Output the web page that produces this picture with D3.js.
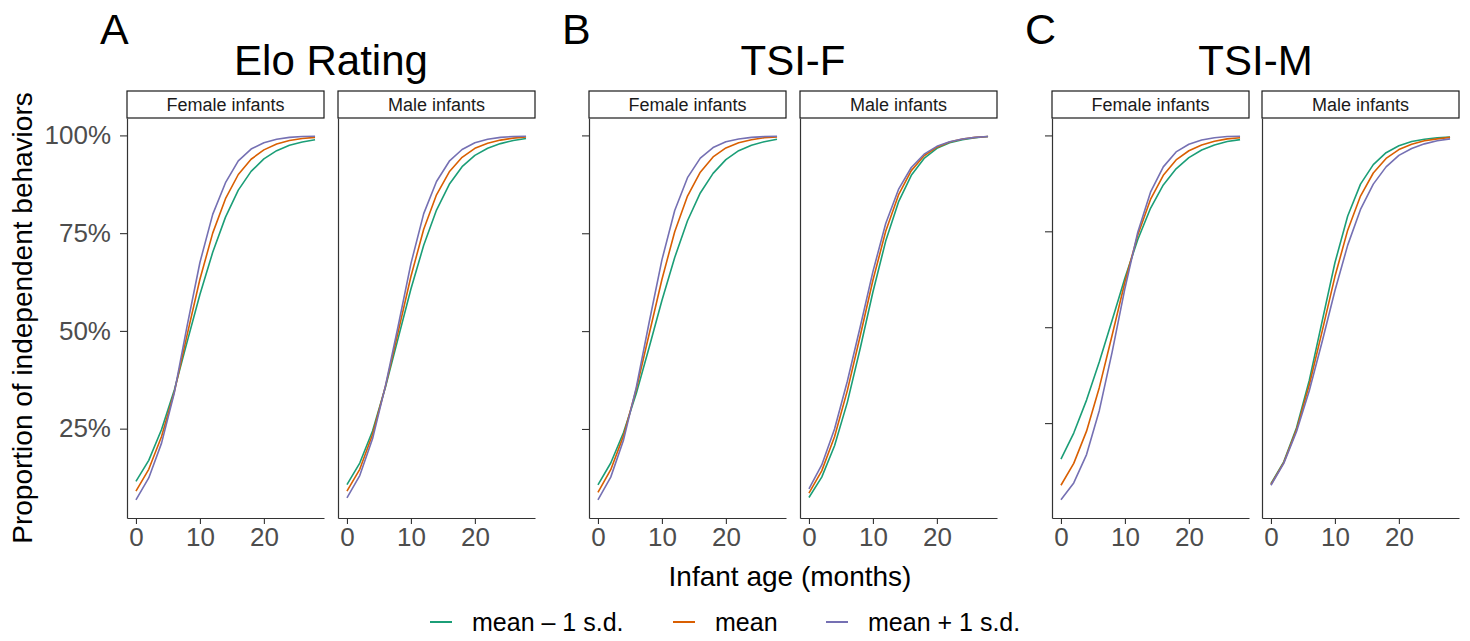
<!DOCTYPE html>
<html><head><meta charset="utf-8">
<script src="https://cdn.jsdelivr.net/npm/d3@7"></script>
<style>
body{margin:0;background:#fff;}
svg{display:block;font-family:"Liberation Sans",Arial,Helvetica,sans-serif;}
</style>
</head><body>
<svg id="chart" width="1470" height="641"></svg>
<script>
// ---------- data ----------
const ages = [0, 2, 4, 6, 8, 10, 12, 14, 16, 18, 20, 22, 24, 26, 28];
const sexes = ["Female infants", "Male infants"];
const seriesNames = ["mean \u2013 1 s.d.", "mean", "mean + 1 s.d."];
const seriesColors = ["#1B9E77", "#D95F02", "#7570B3"];
const figureTitles = ["Elo Rating", "TSI-F", "TSI-M"];
const figureLetters = ["A", "B", "C"];
const yTickValues = [0.25, 0.5, 0.75, 1.0];
const yTickLabels = ["25%", "50%", "75%", "100%"];
const xTickValues = [0, 10, 20];

// Elo Rating
const eloFemaleLow  = [0.115, 0.169, 0.248, 0.349, 0.472, 0.593, 0.701, 0.791, 0.860, 0.908, 0.940, 0.961, 0.975, 0.983, 0.989];
const eloFemaleMean = [0.090, 0.146, 0.230, 0.344, 0.490, 0.632, 0.750, 0.838, 0.900, 0.939, 0.963, 0.978, 0.987, 0.992, 0.995];
const eloFemaleHigh = [0.068, 0.124, 0.213, 0.342, 0.513, 0.675, 0.798, 0.879, 0.935, 0.965, 0.981, 0.990, 0.995, 0.997, 0.998];
const eloMaleLow    = [0.107, 0.162, 0.244, 0.355, 0.481, 0.607, 0.719, 0.809, 0.875, 0.920, 0.949, 0.967, 0.979, 0.987, 0.992];
const eloMaleMean   = [0.090, 0.146, 0.235, 0.357, 0.497, 0.639, 0.760, 0.848, 0.907, 0.944, 0.967, 0.980, 0.988, 0.993, 0.996];
const eloMaleHigh   = [0.073, 0.130, 0.224, 0.358, 0.512, 0.672, 0.800, 0.882, 0.934, 0.964, 0.981, 0.990, 0.995, 0.997, 0.998];
// TSI-F
const tsifFemaleLow  = [0.107, 0.163, 0.241, 0.341, 0.458, 0.578, 0.688, 0.782, 0.853, 0.903, 0.938, 0.961, 0.975, 0.984, 0.990];
const tsifFemaleMean = [0.088, 0.146, 0.233, 0.352, 0.492, 0.632, 0.754, 0.845, 0.906, 0.945, 0.968, 0.981, 0.989, 0.994, 0.996];
const tsifFemaleHigh = [0.069, 0.127, 0.222, 0.357, 0.522, 0.682, 0.808, 0.892, 0.942, 0.969, 0.984, 0.991, 0.995, 0.997, 0.998];
const tsifMaleLow    = [0.075, 0.127, 0.207, 0.318, 0.455, 0.600, 0.730, 0.830, 0.898, 0.941, 0.967, 0.981, 0.989, 0.994, 0.997];
const tsifMaleMean   = [0.086, 0.143, 0.230, 0.348, 0.487, 0.630, 0.755, 0.848, 0.910, 0.948, 0.970, 0.983, 0.991, 0.995, 0.997];
const tsifMaleHigh   = [0.097, 0.158, 0.250, 0.372, 0.510, 0.652, 0.775, 0.862, 0.918, 0.952, 0.972, 0.984, 0.991, 0.995, 0.997];
// TSI-M
const tsimFemaleLow  = [0.156, 0.224, 0.310, 0.410, 0.518, 0.628, 0.728, 0.810, 0.871, 0.913, 0.942, 0.962, 0.975, 0.984, 0.989];
const tsimFemaleMean = [0.088, 0.145, 0.229, 0.343, 0.479, 0.618, 0.740, 0.833, 0.896, 0.936, 0.960, 0.975, 0.985, 0.991, 0.994];
const tsimFemaleHigh = [0.050, 0.094, 0.168, 0.283, 0.435, 0.601, 0.747, 0.852, 0.918, 0.957, 0.977, 0.988, 0.994, 0.997, 0.998];
const tsimMaleLow    = [0.092, 0.149, 0.238, 0.362, 0.515, 0.668, 0.790, 0.873, 0.924, 0.955, 0.973, 0.984, 0.990, 0.994, 0.996];
const tsimMaleMean   = [0.090, 0.147, 0.233, 0.350, 0.489, 0.632, 0.753, 0.842, 0.902, 0.940, 0.963, 0.977, 0.986, 0.991, 0.995];
const tsimMaleHigh   = [0.088, 0.145, 0.228, 0.335, 0.462, 0.595, 0.714, 0.807, 0.873, 0.918, 0.948, 0.966, 0.978, 0.986, 0.991];

const figureData = [
  [[eloFemaleLow, eloFemaleMean, eloFemaleHigh], [eloMaleLow, eloMaleMean, eloMaleHigh]],
  [[tsifFemaleLow, tsifFemaleMean, tsifFemaleHigh], [tsifMaleLow, tsifMaleMean, tsifMaleHigh]],
  [[tsimFemaleLow, tsimFemaleMean, tsimFemaleHigh], [tsimMaleLow, tsimMaleMean, tsimMaleHigh]]
];

// ---------- layout ----------
const svg = d3.select("#chart");
const panelLefts = [[127, 338], [589, 800], [1052, 1262]];
const panelW = 197;
const panelTop = 118, panelBottom = 518;
const stripTop = 91;
const axisColor = "#333333";
const tickTextColor = "#4D4D4D";

function expand(ext) {
  const d = ext[1] - ext[0];
  return [ext[0] - 0.05 * d, ext[1] + 0.05 * d];
}
const xDomain = expand(d3.extent(ages));

figureData.forEach((fig, fi) => {
  const allVals = fig.flat(2);
  const yScale = d3.scaleLinear().domain(expand(d3.extent(allVals))).range([panelBottom, panelTop]);
  const g = svg.append("g");

  // letter label
  g.append("text").attr("x", panelLefts[fi][0] - 27).attr("y", 44)
    .attr("font-size", 43).attr("fill", "#000").text(figureLetters[fi]);
  // title
  const figCenter = (panelLefts[fi][0] + panelLefts[fi][1] + panelW) / 2;
  g.append("text").attr("x", figCenter).attr("y", 75).attr("text-anchor", "middle")
    .attr("font-size", 42).attr("fill", "#000").text(figureTitles[fi]);

  fig.forEach((panel, si) => {
    const left = panelLefts[fi][si];
    const xScale = d3.scaleLinear().domain(xDomain).range([left, left + panelW]);
    const pg = g.append("g");

    // strip
    pg.append("rect").attr("x", left).attr("y", stripTop).attr("width", panelW)
      .attr("height", panelTop - stripTop).attr("fill", "#fff")
      .attr("stroke", "#1a1a1a").attr("stroke-width", 1.2);
    pg.append("text").attr("x", left + panelW / 2).attr("y", stripTop + 20)
      .attr("text-anchor", "middle").attr("font-size", 18).attr("fill", "#1a1a1a")
      .text(sexes[si]);

    // lines
    const line = d3.line().x((d, i) => xScale(ages[i])).y(d => yScale(d));
    panel.forEach((vals, k) => {
      pg.append("path").datum(vals).attr("d", line).attr("fill", "none")
        .attr("stroke", seriesColors[k]).attr("stroke-width", 1.6)
        .attr("stroke-linejoin", "round");
    });

    // x axis
    const xAx = pg.append("g").attr("transform", `translate(0,${panelBottom})`)
      .call(d3.axisBottom(xScale).tickValues(xTickValues).tickSize(6).tickSizeOuter(0).tickPadding(4));
    xAx.selectAll("text").attr("font-size", 26).attr("fill", tickTextColor).attr("font-family", null);
    xAx.selectAll("line").attr("stroke", axisColor).attr("stroke-width", 1.1);
    xAx.select(".domain").attr("stroke", axisColor).attr("stroke-width", 1.2);

    // y axis
    let yAxis;
    if (si === 0) {
      yAxis = d3.axisLeft(yScale).tickValues(yTickValues).tickSize(7).tickSizeOuter(0).tickPadding(9)
        .tickFormat((d, i) => fi === 0 ? yTickLabels[i] : "");
    } else {
      yAxis = d3.axisLeft(yScale).tickValues([]).tickSizeOuter(0);
    }
    const yAx = pg.append("g").attr("transform", `translate(${left},0)`).call(yAxis);
    yAx.selectAll("text").attr("font-size", 26).attr("fill", tickTextColor).attr("font-family", null);
    yAx.selectAll("line").attr("stroke", axisColor).attr("stroke-width", 1.1);
    yAx.select(".domain").attr("stroke", axisColor).attr("stroke-width", 1.2);
    xAx.attr("font-family", null); yAx.attr("font-family", null);
  });
});

// axis titles
svg.append("text").attr("transform", "translate(32,318) rotate(-90)")
  .attr("text-anchor", "middle").attr("font-size", 28).attr("fill", "#000")
  .text("Proportion of independent behaviors");
svg.append("text").attr("x", 790).attr("y", 586).attr("text-anchor", "middle")
  .attr("font-size", 28).attr("fill", "#000").text("Infant age (months)");

// legend
const legendX = [430, 673, 826];
const legend = svg.append("g");
seriesNames.forEach((name, k) => {
  legend.append("line").attr("x1", legendX[k]).attr("x2", legendX[k] + 22)
    .attr("y1", 622).attr("y2", 622).attr("stroke", seriesColors[k]).attr("stroke-width", 2);
  legend.append("text").attr("x", legendX[k] + 42).attr("y", 631)
    .attr("font-size", 25).attr("fill", "#000").text(name);
});
</script>
</body></html>
